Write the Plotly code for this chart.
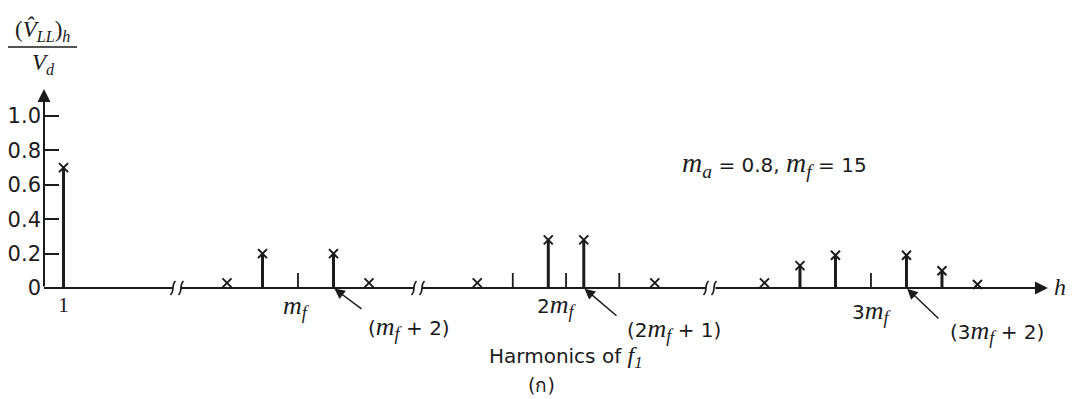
import plotly.graph_objects as go

# ---------------- data ----------------
fund_h = [1]
fund_v = [0.70]
g1_h = [11, 13, 17, 19]
g1_v = [0.03, 0.20, 0.20, 0.03]
g2_h = [25, 29, 31, 35]
g2_v = [0.03, 0.28, 0.28, 0.03]
g3_h = [39, 41, 43, 47, 49, 51]
g3_v = [0.03, 0.13, 0.19, 0.19, 0.10, 0.02]
zero_h = [15, 27, 30, 33, 45]          # triplen harmonics: absent in line-to-line voltage
y_tickvals = [0, 0.2, 0.4, 0.6, 0.8, 1.0]
y_ticktext = ["0", "0.2", "0.4", "0.6", "0.8", "1.0"]
ma = 0.8
mf = 15

# ---------------- layout constants ----------------
W, H = 1076, 399
PX_PER_H = 17.75          # pixels per harmonic order
AX_X = 44                 # pixel column of the y axis
XMIN = -AX_X / PX_PER_H
XMAX = XMIN + W / PX_PER_H
BASE_PY = 288             # pixel row of zero
PX_PER_UNIT = 172
YMAX = BASE_PY / PX_PER_UNIT
YMIN = YMAX - H / PX_PER_UNIT

SEG_LIMITS = [5, 22, 37]               # broken axis segments
SEG_OFFSETS = [0.10, -0.69, -0.59, 1.59]
BREAKS = [7.49, 21.07, 37.52]          # axis break positions (axis units)
X_END = 56.56
Y_END = 1.157
TICK_H = 15 / PX_PER_UNIT
INK = "#1b1b1b"
SERIF = "Liberation Serif"
SANS = "DejaVu Sans"


def pos(h):
    for lim, off in zip(SEG_LIMITS, SEG_OFFSETS):
        if h < lim:
            return h + off
    return h + SEG_OFFSETS[-1]


def to_px(u):
    return (u - XMIN) / (XMAX - XMIN) * W


def P(xp, yp):
    return xp / W, 1 - yp / H


def mi(s, sub=None, size=26):
    t = f"<i>{s}</i>"
    if sub:
        t += f"<sub><i>{sub}</i></sub>"
    return f"<span style='font-family:{SERIF};font-size:{size}px'>{t}</span>"


all_h = fund_h + g1_h + g2_h + g3_h
all_v = fund_v + g1_v + g2_v + g3_v

fig = go.Figure()

# stems
sx, sy = [], []
for h, v in zip(all_h, all_v):
    if v >= 0.05:
        sx += [pos(h), pos(h), None]
        sy += [0, v, None]
fig.add_trace(go.Scatter(x=sx, y=sy, mode="lines",
                         line=dict(color=INK, width=3), hoverinfo="skip"))

# zero (triplen) ticks
tx, ty = [], []
for h in zero_h:
    tx += [pos(h), pos(h), None]
    ty += [0, TICK_H, None]
fig.add_trace(go.Scatter(x=tx, y=ty, mode="lines",
                         line=dict(color=INK, width=1.8), hoverinfo="skip"))

# x markers
fig.add_trace(go.Scatter(x=[pos(h) for h in all_h], y=all_v, mode="markers",
                         marker=dict(symbol="x-thin", size=9,
                                     line=dict(color=INK, width=2)),
                         hoverinfo="skip"))

shapes = []
# baseline segments with breaks
gap_u = 4 / PX_PER_H
starts = [0] + [b + gap_u for b in BREAKS]
ends = [b - gap_u for b in BREAKS]
for s, e in zip(starts[:-1], ends):
    shapes.append(dict(type="line", xref="x", yref="y", x0=s, x1=e, y0=0, y1=0,
                       line=dict(color=INK, width=2)))
# break marks (two small wavy strokes)
dy = 7 / PX_PER_UNIT
dx = 2.5 / PX_PER_H
for b in BREAKS:
    for c in (b - gap_u, b + gap_u):
        path = (f"M {c - dx},{-dy} C {c + dx},{-dy * 0.3} {c - dx},{dy * 0.3} {c + dx},{dy}")
        shapes.append(dict(type="path", xref="x", yref="y", path=path,
                           line=dict(color=INK, width=1.6)))
# fraction bar of the y label
fx0, fy0 = P(8, 47)
fx1, _ = P(77, 47)
shapes.append(dict(type="line", xref="paper", yref="paper", x0=fx0, x1=fx1,
                   y0=fy0, y1=fy0, line=dict(color=INK, width=1.5)))

ann = []
# axis arrows
ann.append(dict(x=X_END, y=0, ax=starts[-1], ay=0, xref="x", yref="y", axref="x", ayref="y",
                text="", showarrow=True, arrowhead=2, arrowsize=1.3, arrowwidth=2,
                arrowcolor=INK, standoff=0))
ann.append(dict(x=0, y=Y_END, ax=0, ay=0, xref="x", yref="y", axref="x", ayref="y",
                text="", showarrow=True, arrowhead=2, arrowsize=1.3, arrowwidth=2,
                arrowcolor=INK, standoff=0))


def txt(xp, yp, text, size=18, family=SANS):
    x, y = P(xp, yp)
    ann.append(dict(x=x, y=y, xref="paper", yref="paper", text=text, showarrow=False,
                    xanchor="center", yanchor="middle",
                    font=dict(family=family, size=size, color=INK)))


# y label fraction
txt(42, 30, f"(<i>V̂</i><sub><i>LL</i></sub>)<sub><i>h</i></sub>", size=23, family=SERIF)
txt(43, 64, f"<i>V</i><sub><i>d</i></sub>", size=23, family=SERIF)
# axis name
txt(1060, BASE_PY - 1, "<i>h</i>", size=24, family=SERIF)
# parameters
txt(774, 165, f"{mi('m', 'a', 28)} = {ma}, {mi('m', 'f', 28)} = {mf}", size=20)
# harmonic labels under the axis
txt(to_px(pos(1)), 304, "1", size=22, family=SERIF)
txt(to_px(pos(mf)) - 2, 307, mi("m", "f"), size=20)
txt(to_px(pos(2 * mf)) - 9, 306, f"2{mi('m', 'f')}", size=20)
txt(to_px(pos(3 * mf)) + 1, 312, f"3{mi('m', 'f')}", size=20)

# pointer labels
pointers = [(mf + 2, (363, 310), (409, 328), f"({mi('m', 'f')} + 2)"),
            (2 * mf + 1, (618, 317), (674, 330), f"(2{mi('m', 'f')} + 1)"),
            (3 * mf + 2, (940, 320), (997, 332), f"(3{mi('m', 'f')} + 2)")]
for h, (tx_, ty_), (lx, ly), label in pointers:
    tip_px = to_px(pos(h))
    ann.append(dict(x=pos(h), y=0, xref="x", yref="y", ax=tx_ - tip_px, ay=ty_ - BASE_PY,
                    text="", showarrow=True, arrowhead=2, arrowsize=1.4, arrowwidth=1.5,
                    arrowcolor=INK, standoff=1))
    txt(lx, ly, label, size=20)

# caption
txt(566, 357, f"Harmonics of {mi('f', '1', 24)}", size=20)
txt(541, 385, "(ก)", size=19)

fig.update_layout(
    width=W, height=H, margin=dict(l=0, r=0, t=0, b=0),
    paper_bgcolor="white", plot_bgcolor="white", showlegend=False,
    template="none",
    xaxis=dict(range=[XMIN, XMAX], visible=False, domain=[0, 1], automargin=False),
    yaxis=dict(range=[YMIN, YMAX], domain=[0, 1], anchor="free", position=AX_X / W,
               showline=False, showgrid=False, zeroline=False, automargin=False,
               tickmode="array", tickvals=y_tickvals, ticktext=y_ticktext,
               ticks="inside", ticklen=14, tickwidth=1.6, tickcolor=INK,
               ticklabelstandoff=3,
               tickfont=dict(family=SANS, size=21, color=INK)),
    shapes=shapes, annotations=ann,
)

fig.write_html("out.html")
